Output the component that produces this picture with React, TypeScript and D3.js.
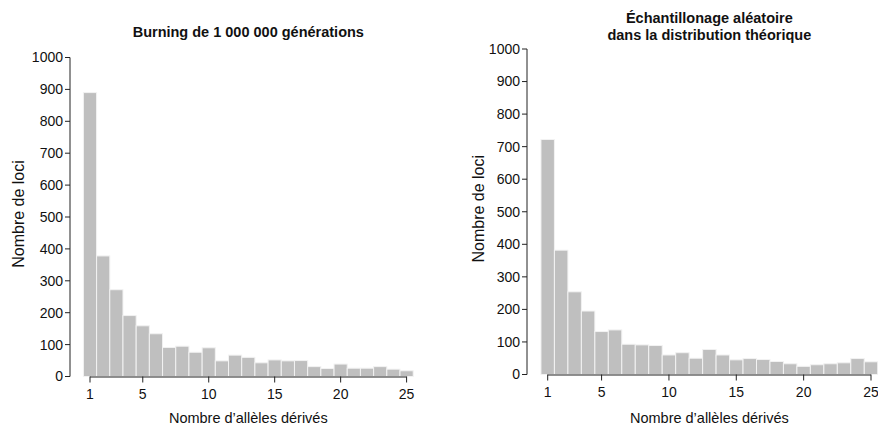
import React from "react";
import * as d3 from "d3";

const categories = d3.range(1, 26);
const burningValues = [890, 378, 272, 191, 159, 134, 91, 95, 76, 90, 49, 67, 60, 43, 52, 49, 50, 31, 25, 39, 26, 26, 31, 23, 18];
const samplingValues = [722, 382, 254, 195, 132, 137, 93, 91, 89, 60, 67, 50, 77, 60, 45, 49, 46, 40, 33, 25, 30, 33, 36, 49, 39];
const yTicks = [0, 100, 200, 300, 400, 500, 600, 700, 800, 900, 1000];
const xTicks = [1, 5, 10, 15, 20, 25];
const titleLeft = ["Burning de 1 000 000 générations"];
const titleRight = ["Échantillonage aléatoire", "dans la distribution théorique"];
const xLabel = "Nombre d’allèles dérivés";
const yLabel = "Nombre de loci";

const FONT = "'Liberation Sans', Arial, Helvetica, sans-serif";

type PanelProps = {
  values: number[];
  title: string[];
  axisX: number;
  x1: number;
  x25: number;
  y0: number;
  y1000: number;
  titleBaseline: number;
  yLabelX: number;
};

function Panel({ values, title, axisX, x1, x25, y0, y1000, titleBaseline, yLabelX }: PanelProps) {
  const x = d3.scaleLinear().domain([1, 25]).range([x1, x25]);
  const y = d3.scaleLinear().domain([0, 1000]).range([y0, y1000]);
  const bw = x(2) - x(1);
  const cx = (x(0.5) + x(25.5)) / 2;
  const axisColor = "#222";
  return (
    <g>
      {title.map((t, i) => (
        <text key={i} x={cx} y={titleBaseline + i * 17} textAnchor="middle" fontSize={14.5} fontWeight="bold" fontFamily={FONT} fill="#111">
          {t}
        </text>
      ))}
      {values.map((v, i) => (
        <rect
          key={i}
          x={x(categories[i] - 0.5)}
          y={y(v)}
          width={bw}
          height={y(0) - y(v)}
          fill="#bfbfbf"
          stroke="#f2f2f2"
          strokeWidth={1}
        />
      ))}
      <line x1={axisX} x2={axisX} y1={y(0)} y2={y(1000)} stroke={axisColor} strokeWidth={1} />
      {yTicks.map((t) => (
        <g key={t}>
          <line x1={axisX - 5} x2={axisX} y1={y(t)} y2={y(t)} stroke={axisColor} />
          <text x={axisX - 7} y={y(t)} dy="0.35em" textAnchor="end" fontSize={14} fontFamily={FONT} fill="#111">
            {t}
          </text>
        </g>
      ))}
      <line x1={x(1)} x2={x(25)} y1={y(0) + 0.5} y2={y(0) + 0.5} stroke={axisColor} />
      {xTicks.map((t) => (
        <g key={t}>
          <line x1={x(t)} x2={x(t)} y1={y(0)} y2={y(0) + 6} stroke={axisColor} />
          <text x={x(t)} y={y(0) + 22} textAnchor="middle" fontSize={14} fontFamily={FONT} fill="#111">
            {t}
          </text>
        </g>
      ))}
      <text x={cx} y={423} textAnchor="middle" fontSize={14.5} fontFamily={FONT} fill="#111">
        {xLabel}
      </text>
      <text
        transform={`translate(${yLabelX},${(y(0) + y(1000)) / 2 - 3}) rotate(-90)`}
        textAnchor="middle"
        dy="0.35em"
        fontSize={16}
        fontFamily={FONT}
        fill="#111"
      >
        {yLabel}
      </text>
    </g>
  );
}

export default function App() {
  return (
    <svg width={878} height={428} style={{ position: "absolute", left: 0, top: 0, background: "#fff" }}>
      <Panel values={burningValues} title={titleLeft} axisX={70} x1={90} x25={406.6} y0={376.5} y1000={57.5} titleBaseline={37} yLabelX={18} />
      <Panel values={samplingValues} title={titleRight} axisX={527} x1={547.7} x25={871} y0={374.5} y1000={49} titleBaseline={23} yLabelX={478.5} />
    </svg>
  );
}
